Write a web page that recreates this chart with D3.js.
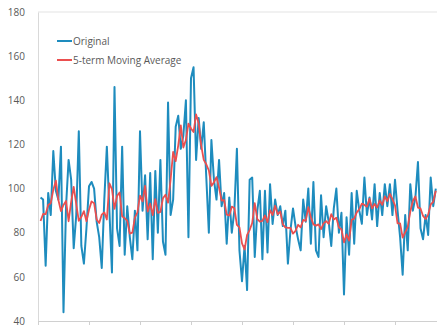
<!DOCTYPE html>
<html>
<head>
<meta charset="utf-8">
<script src="https://cdn.jsdelivr.net/npm/d3@7"></script>
<style>
    body { margin: 0; background: #fff; }
    text { font-family: "Open Sans", "Noto Sans", sans-serif; }
</style>
</head>
<body>
<script>
// Values, one per period (index 1..156)
var original = [
    96, 95, 65, 98, 88, 117, 99, 95, 119, 44,
    92, 113, 104, 73, 88, 126, 74, 66, 82, 101,
    103, 100, 85, 78, 64, 95, 119, 90, 62, 146,
    82, 74, 119, 70, 92, 78, 68, 90, 72, 126,
    90, 106, 77, 107, 68, 108, 80, 113, 76, 70,
    139, 88, 95, 128, 133, 118, 124, 140, 78, 150,
    155, 113, 132, 118, 130, 105, 80, 122, 104, 95,
    113, 92, 98, 75, 96, 80, 90, 118, 72, 58,
    74, 54, 104, 105, 69, 90, 99, 68, 99, 71,
    102, 84, 95, 88, 92, 83, 90, 66, 81, 91,
    83, 77, 72, 95, 85, 100, 75, 103, 72, 69,
    97, 78, 92, 85, 74, 91, 100, 80, 89, 52,
    87, 70, 98, 75, 99, 90, 84, 105, 88, 96,
    86, 102, 83, 98, 88, 102, 92, 102, 88, 104,
    90, 78, 61, 88, 72, 102, 90, 96, 112, 82,
    77, 88, 79, 105, 92, 100
];
var seriesNames = ["Original", "5-term Moving Average"];
var seriesColors = ["#1e8cbe", "#eb4f4f"];
var yTicks = [40, 60, 80, 100, 120, 140, 160, 180];
var xTicks = [0, 20, 40, 60, 80, 100, 120, 140, 160];

// 5-term centred moving average of the original series
var movingAvg = original.map(function(d, i) {
    var win = original.slice(Math.max(0, i - 2), i + 3);
    return d3.mean(win);
});

var width = 437, height = 328;

var svg = d3.select("body").append("svg")
    .attr("width", width)
    .attr("height", height);

var xScale = d3.scaleLinear().domain([0, 160]).range([38, 446]);
var yScale = d3.scaleLinear().domain([40, 180]).range([321, 12]);

// top border of plot area
svg.append("line")
    .attr("x1", 38).attr("x2", width)
    .attr("y1", yScale(180)).attr("y2", yScale(180))
    .attr("stroke", "#e3e3e3");

// y axis
var yAxis = d3.axisLeft(yScale).tickValues(yTicks).tickSize(0).tickPadding(13);
var gy = svg.append("g")
    .attr("transform", "translate(38,0)")
    .call(yAxis);
gy.select(".domain").attr("stroke", "#d9d9d9");
gy.selectAll("text")
    .attr("fill", "#595959")
    .attr("font-size", "10px");

// x axis, tick marks only
var xAxis = d3.axisBottom(xScale).tickValues(xTicks)
    .tickFormat("").tickSize(4).tickSizeOuter(0);
var gx = svg.append("g")
    .attr("transform", "translate(0," + yScale(40) + ")")
    .call(xAxis);
gx.select(".domain").attr("stroke", "#d0d0d0");
gx.selectAll(".tick line").attr("stroke", "#d0d0d0");

var line = d3.line()
    .x(function(d, i) { return xScale(i + 1); })
    .y(function(d) { return yScale(d); });

svg.append("path")
    .datum(original)
    .attr("fill", "none")
    .attr("stroke", seriesColors[0])
    .attr("stroke-width", 2)
    .attr("stroke-linejoin", "round")
    .attr("d", line);

svg.append("path")
    .datum(movingAvg)
    .attr("fill", "none")
    .attr("stroke", seriesColors[1])
    .attr("stroke-width", 1.8)
    .attr("stroke-linejoin", "round")
    .attr("d", line);

// legend
var legend = svg.selectAll(".legend")
    .data(seriesNames)
    .enter().append("g")
    .attr("transform", function(d, i) {
        return "translate(57," + (41 + i * 19) + ")";
    });
legend.append("line")
    .attr("x1", 0).attr("x2", 15)
    .attr("stroke", function(d, i) { return seriesColors[i]; })
    .attr("stroke-width", 2);
legend.append("text")
    .attr("x", 16)
    .attr("dy", "0.35em")
    .attr("font-size", "10px")
    .attr("fill", "#595959")
    .text(function(d) { return d; });
</script>
</body>
</html>
